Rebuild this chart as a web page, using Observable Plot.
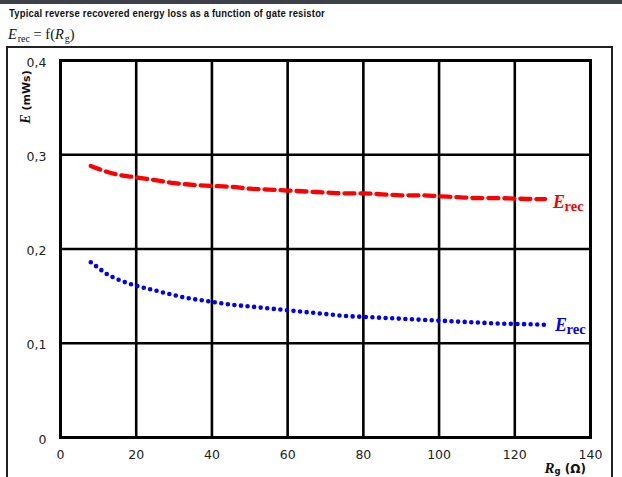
<!DOCTYPE html>
<html>
<head>
<meta charset="utf-8">
<script src="https://cdn.jsdelivr.net/npm/d3@7"></script>
<script src="https://cdn.jsdelivr.net/npm/@observablehq/plot@0.6"></script>
<style>
  html, body { margin: 0; padding: 0; background: #fff; }
  #page { position: relative; width: 622px; height: 477px; overflow: hidden; }
  #bar { position: absolute; left: 0; top: 0; width: 622px; height: 4px; background: #3d424a; }
  #title { position: absolute; left: 9px; top: 7px; font: bold 10.5px "Liberation Sans", Arial, sans-serif; color: #111; white-space: nowrap; transform-origin: 0 0; letter-spacing: 0.2px; }
  #formula { position: absolute; left: 8px; top: 26px; font: 14.5px "Liberation Serif", serif; color: #111; white-space: nowrap; }
  #formula sub { font-size: 10px; vertical-align: -3px; }
  #frame { position: absolute; left: 6px; top: 46px; width: 603px; height: 520px; border: 2px solid #222; }
  #chart { position: absolute; left: 0; top: 0; }
</style>
</head>
<body>
<div id="page">
  <div id="bar"></div>
  <div id="title">Typical reverse recovered energy loss as a function of gate resistor</div>
  <div id="formula"><i>E</i><sub>&#8202;rec</sub> = f(<i>R</i><sub>&#8202;g</sub>)</div>
  <div id="frame"></div>
  <div id="chart"></div>
</div>
<script>
// ---- data ----
const xTicks = [0, 20, 40, 60, 80, 100, 120, 140];
const yTicks = [0, 0.1, 0.2, 0.3, 0.4];
const redRg = [8, 10, 15, 20, 25, 30, 35, 40, 45, 50, 55, 60, 65, 70, 75, 80, 85, 90, 95, 100, 105, 110, 115, 120, 125, 128];
const redE  = [0.288, 0.285, 0.279, 0.276, 0.273, 0.270, 0.268, 0.267, 0.266, 0.264, 0.263, 0.262, 0.261, 0.260, 0.259, 0.259, 0.258, 0.257, 0.257, 0.256, 0.255, 0.254, 0.254, 0.2535, 0.253, 0.253];
const blueRg = [8, 10, 12, 15, 20, 25, 30, 35, 40, 45, 50, 55, 60, 65, 70, 75, 80, 85, 90, 95, 100, 105, 110, 115, 120, 125, 128];
const blueE  = [0.186, 0.180, 0.174, 0.168, 0.161, 0.156, 0.151, 0.147, 0.144, 0.141, 0.139, 0.137, 0.135, 0.133, 0.131, 0.129, 0.128, 0.127, 0.126, 0.125, 0.124, 0.123, 0.122, 0.121, 0.1205, 0.120, 0.1195];

const red = redRg.map((x, i) => ({x, y: redE[i]}));
const blue = blueRg.map((x, i) => ({x, y: blueE[i]}));
const redEnd = [red[red.length - 1]];
const blueEnd = [blue[blue.length - 1]];

const fmtY = d => d === 0 ? "0" : d.toFixed(1).replace(".", ",");
const fmtX = d => String(d);
const serif = "Liberation Serif, DejaVu Serif, serif";
const sans = "DejaVu Sans, Verdana, sans-serif";

const chart = Plot.plot({
  width: 622,
  height: 477,
  marginLeft: 60,
  marginRight: 32,
  marginTop: 60,
  marginBottom: 40,
  style: { fontFamily: sans, fontSize: "12px", background: "transparent", color: "#222" },
  x: { domain: [0, 140] },
  y: { domain: [0, 0.4] },
  marks: [
    Plot.ruleX(xTicks.slice(1, -1), { stroke: "#000", strokeWidth: 2.6 }),
    Plot.ruleY(yTicks.slice(1, -1), { stroke: "#000", strokeWidth: 2.6 }),
    Plot.frame({ stroke: "#000", strokeWidth: 3 }),
    Plot.axisX({ ticks: xTicks, tickSize: 0, tickPadding: 13, tickFormat: fmtX, label: null, fontSize: 12.5 }),
    Plot.axisY({ ticks: yTicks, tickSize: 0, tickPadding: 14, tickFormat: fmtY, label: null, fontSize: 12.5, dy: 2 }),
    Plot.line(red, { x: "x", y: "y", stroke: "#ff0000", strokeWidth: 4.3, strokeDasharray: "10,6", curve: "monotone-x" }),
    Plot.line(blue, { x: "x", y: "y", stroke: "#0000ff", strokeWidth: 4.6, strokeDasharray: "0,6.6", strokeLinecap: "round", curve: "monotone-x" }),
    Plot.text(redEnd, { x: "x", y: "y", text: () => "E", dx: 8, dy: 9, textAnchor: "start", lineAnchor: "bottom", fill: "#ff0000", fontFamily: serif, fontWeight: "bold", fontStyle: "italic", fontSize: 18 }),
    Plot.text(redEnd, { x: "x", y: "y", text: () => "rec", dx: 19.5, dy: 12, textAnchor: "start", lineAnchor: "bottom", fill: "#ff0000", fontFamily: serif, fontWeight: "bold", fontSize: 14.5 }),
    Plot.text(blueEnd, { x: "x", y: "y", text: () => "E", dx: 10, dy: 6, textAnchor: "start", lineAnchor: "bottom", fill: "#0000ff", fontFamily: serif, fontWeight: "bold", fontStyle: "italic", fontSize: 18 }),
    Plot.text(blueEnd, { x: "x", y: "y", text: () => "rec", dx: 21.5, dy: 9, textAnchor: "start", lineAnchor: "bottom", fill: "#0000ff", fontFamily: serif, fontWeight: "bold", fontSize: 14.5 })
  ]
});

const svg = d3.select(chart);
// y axis label
const yl = svg.append("text")
  .attr("transform", "translate(30,97) rotate(-90)")
  .attr("text-anchor", "middle")
  .attr("font-family", sans)
  .attr("font-size", 11)
  .attr("font-weight", "bold")
  .attr("fill", "#111");
yl.append("tspan").attr("font-style", "italic").attr("font-family", serif).attr("font-size", 14).text("E");
yl.append("tspan").text(" (mWs)");
// x axis label
const xl = svg.append("text")
  .attr("x", 586).attr("y", 473)
  .attr("text-anchor", "end")
  .attr("font-family", sans)
  .attr("font-size", 12)
  .attr("font-weight", "bold")
  .attr("fill", "#111");
xl.append("tspan").attr("font-style", "italic").attr("font-family", serif).attr("font-size", 15).text("R");
xl.append("tspan").attr("font-size", 8.5).attr("dy", 1).text("g");
xl.append("tspan").attr("dy", -1).text(" (Ω)");

document.getElementById("chart").appendChild(chart);

// fit title width to reference
const t = document.getElementById("title");
const w = t.getBoundingClientRect().width;
t.style.transform = `scaleX(${316 / w})`;
</script>
</body>
</html>
